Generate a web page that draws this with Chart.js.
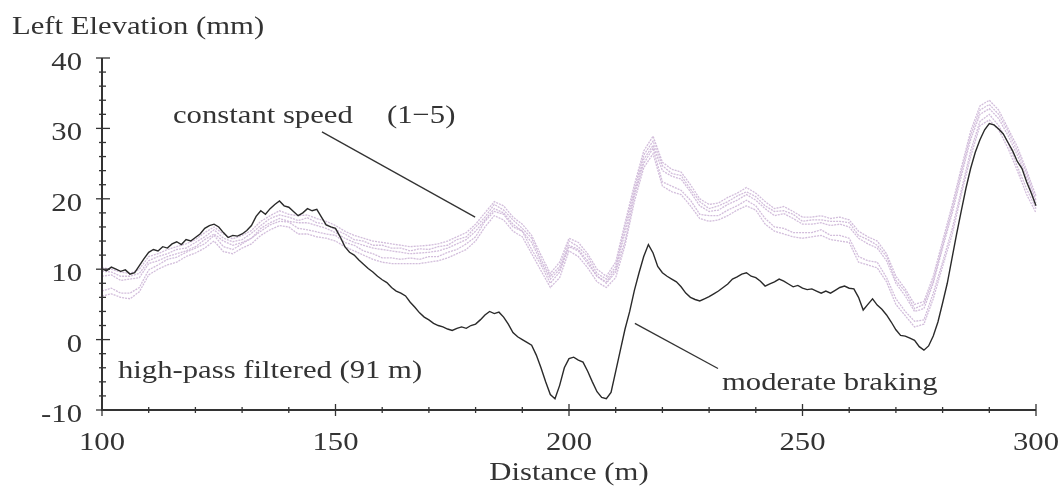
<!DOCTYPE html>
<html>
<head>
<meta charset="utf-8">
<script src="https://cdn.jsdelivr.net/npm/chart.js@4.4.0/dist/chart.umd.min.js"></script>
<style>
  html, body { margin: 0; padding: 0; background: #fff; }
  #wrap { width: 1064px; height: 489px; position: relative; }
</style>
</head>
<body>
<div id="wrap"><canvas id="chart" width="1064" height="489"></canvas></div>
<script>
// ---- data ----
// moderate braking: one value per metre, from 100 m
const brakingStart = 100;
const brakingStep = 1;
const brakingValues = [
  10.0, 9.8, 10.3, 10.0, 9.7, 9.9, 9.3, 9.5, 10.5, 11.5,
  12.4, 12.8, 12.6, 13.2, 13.0, 13.6, 13.9, 13.5, 14.2, 14.0,
  14.5, 15.0, 15.8, 16.2, 16.4, 16.0, 15.2, 14.5, 14.8, 14.7,
  15.0, 15.5, 16.2, 17.5, 18.3, 17.8, 18.6, 19.2, 19.7, 19.0,
  18.8, 18.2, 17.6, 18.0, 18.6, 18.3, 18.5, 17.4, 16.3, 16.0,
  15.8, 14.6, 13.2, 12.4, 12.0, 11.3, 10.7, 10.1, 9.6, 9.0,
  8.5, 8.1, 7.4, 6.9, 6.6, 6.2, 5.3, 4.6, 3.8, 3.2,
  2.8, 2.3, 2.0, 1.8, 1.5, 1.3, 1.6, 1.8, 1.6, 2.0,
  2.2, 2.8, 3.5, 4.0, 3.7, 3.9, 3.2, 2.2, 1.0, 0.4,
  0.0, -0.4, -0.8, -2.2, -4.0, -6.0, -7.8, -8.4, -6.5, -4.0,
  -2.7, -2.5, -2.9, -3.2, -4.5, -6.0, -7.4, -8.2, -8.4, -7.5,
  -4.5, -1.5, 1.5, 4.0, 7.0, 9.5, 11.8, 13.5, 12.3, 10.4,
  9.5, 9.0, 8.6, 8.2, 7.5, 6.6, 6.0, 5.7, 5.5, 5.8,
  6.1, 6.5, 6.9, 7.4, 7.9, 8.6, 8.9, 9.3, 9.5, 9.0,
  8.8, 8.3, 7.6, 7.9, 8.2, 8.6, 8.3, 7.9, 7.5, 7.7,
  7.3, 7.1, 7.2, 6.9, 6.6, 6.9, 6.6, 7.0, 7.4, 7.6,
  7.3, 7.2, 6.0, 4.2, 5.0, 5.8, 4.9, 4.3, 3.5, 2.5,
  1.4, 0.6, 0.5, 0.2, -0.1, -1.0, -1.5, -0.9, 0.5, 2.5,
  5.2, 8.0, 11.5, 15.0, 18.3, 21.5, 24.3, 26.6, 28.4, 29.8,
  30.7, 30.5, 29.9, 29.2, 28.0, 26.8, 25.3, 24.3, 22.4, 20.8,
  19.0, 17.5
];

// constant speed runs 1-5: one value every 2 m, from 100 m
const speedStart = 100;
const speedStep = 2;
const speedRun1 = [
  10.2, 10.0, 9.6, 9.4, 10.0, 11.8, 12.2, 12.8, 13.2, 13.6,
  14.2, 15.2, 16.0, 15.0, 14.3, 14.8, 15.5, 16.8, 17.6, 18.3,
  17.8, 17.6, 17.7, 17.2, 16.8, 16.2, 15.4, 14.8, 14.4, 14.0,
  13.8, 13.6, 13.4, 13.2, 13.3, 13.4, 13.6, 14.0, 14.6, 15.2,
  16.4, 18.0, 19.6, 19.0, 17.4, 16.4, 14.8, 12.0, 9.4, 11.0,
  14.4, 13.8, 12.2, 10.0, 9.0, 11.0, 16.6, 22.0, 26.8, 28.9,
  25.2, 24.2, 23.8, 22.0, 20.0, 19.2, 19.4, 20.2, 20.8, 21.6,
  20.8, 19.6, 18.6, 18.9, 18.2, 17.4, 17.4, 17.6, 17.2, 17.4,
  17.0, 15.4, 14.6, 14.0, 12.2, 9.0, 7.2, 5.0, 5.4, 9.0,
  14.0, 19.0, 24.4, 29.6, 33.2, 34.0, 32.6, 30.0, 27.4, 24.0, 20.4
];
const speedRun2 = [
  9.7, 9.6, 9.0, 9.0, 9.4, 11.2, 11.8, 12.2, 12.8, 13.0,
  13.8, 14.6, 15.6, 14.4, 13.9, 14.2, 15.1, 16.2, 17.2, 17.7,
  17.4, 16.9, 17.3, 16.6, 16.4, 15.6, 15.0, 14.2, 14.0, 13.4,
  13.4, 13.0, 13.0, 12.6, 12.9, 12.8, 13.2, 13.4, 14.2, 14.6,
  16.0, 17.4, 19.2, 18.4, 17.0, 15.8, 14.4, 11.4, 9.0, 10.4,
  14.0, 13.2, 11.8, 9.4, 8.6, 10.4, 16.0, 21.4, 26.2, 28.2,
  24.7, 23.6, 23.3, 21.4, 19.6, 18.6, 19.0, 19.6, 20.4, 21.0,
  20.3, 19.0, 18.2, 18.3, 17.8, 16.8, 17.0, 17.0, 16.8, 16.8,
  16.6, 14.8, 14.2, 13.4, 11.8, 8.4, 6.8, 4.4, 5.0, 8.4,
  13.4, 18.4, 23.8, 29.0, 32.6, 33.4, 32.0, 29.6, 26.8, 23.6, 19.8
];
const speedRun3 = [
  9.0, 9.2, 8.4, 8.6, 8.8, 10.8, 11.2, 11.8, 12.2, 12.6,
  13.2, 14.2, 15.0, 14.0, 13.4, 13.8, 14.4, 15.8, 16.6, 17.2,
  16.8, 16.6, 16.6, 16.2, 15.8, 15.2, 14.4, 13.8, 13.4, 13.0,
  12.8, 12.6, 12.4, 12.2, 12.3, 12.4, 12.6, 13.0, 13.6, 14.2,
  15.4, 17.0, 18.6, 18.0, 16.4, 15.4, 13.8, 11.0, 8.6, 10.0,
  13.4, 12.8, 11.2, 9.0, 8.2, 10.0, 15.2, 20.8, 25.6, 27.6,
  24.0, 23.2, 22.8, 21.0, 19.0, 18.2, 18.4, 19.2, 19.8, 20.6,
  19.8, 18.6, 17.6, 17.9, 17.2, 16.4, 16.4, 16.6, 16.2, 16.4,
  16.0, 14.4, 13.6, 13.0, 11.2, 8.0, 6.2, 4.0, 4.4, 8.0,
  13.0, 17.8, 23.2, 28.4, 32.0, 32.8, 31.4, 29.0, 26.2, 23.0, 19.4
];
const speedRun4 = [
  6.9, 7.3, 6.6, 6.6, 7.4, 9.9, 10.6, 11.4, 11.7, 12.4,
  13.0, 13.6, 14.8, 13.2, 12.8, 13.6, 14.4, 15.4, 16.3, 16.8,
  16.7, 15.8, 15.6, 15.3, 15.0, 14.8, 13.8, 13.4, 12.6, 12.2,
  11.6, 11.6, 11.4, 11.6, 11.4, 11.8, 11.8, 12.4, 12.8, 13.6,
  14.6, 16.8, 18.2, 17.8, 16.0, 15.4, 12.8, 10.6, 8.0, 9.6,
  13.2, 12.6, 10.8, 9.0, 8.0, 9.6, 14.0, 20.4, 25.0, 27.2,
  22.4, 21.8, 21.2, 19.8, 17.8, 17.6, 17.6, 18.4, 19.0, 19.8,
  19.0, 17.2, 16.0, 15.8, 15.2, 15.2, 15.2, 15.6, 14.8, 14.8,
  14.4, 11.8, 11.2, 11.0, 8.8, 5.8, 4.0, 2.6, 2.8, 6.6,
  11.0, 15.6, 21.2, 26.8, 31.0, 32.0, 30.4, 28.0, 24.6, 21.4, 18.6
];
const speedRun5 = [
  6.2, 6.5, 6.0, 5.8, 6.8, 9.2, 10.0, 10.6, 11.0, 11.8,
  12.3, 13.0, 14.0, 12.5, 12.2, 13.0, 13.6, 14.8, 15.6, 16.2,
  16.0, 15.0, 15.0, 14.6, 14.4, 14.0, 13.2, 12.6, 12.0, 11.4,
  11.0, 10.8, 10.8, 10.8, 10.8, 11.0, 11.2, 11.6, 12.2, 12.8,
  14.0, 16.0, 17.6, 17.0, 15.4, 14.6, 12.2, 9.8, 7.4, 8.8,
  12.6, 11.8, 10.2, 8.2, 7.4, 8.8, 13.4, 19.6, 24.4, 26.4,
  21.8, 21.0, 20.6, 19.0, 17.2, 16.8, 17.0, 17.6, 18.4, 19.0,
  18.4, 16.4, 15.4, 15.0, 14.6, 14.4, 14.6, 14.8, 14.2, 14.0,
  13.8, 11.0, 10.6, 10.2, 8.2, 5.0, 3.4, 1.8, 2.2, 5.8,
  10.4, 14.8, 20.6, 26.0, 30.4, 31.2, 29.8, 27.2, 24.0, 20.6, 18.0
];

// axes
const xMin = 100, xMax = 300, xMinorStep = 10, xMajorStep = 50;
const yMin = -10, yMax = 40, yMinorStep = 2, yMajorStep = 10;

// ---- look ----
const FONT = '"Liberation Serif", "Times New Roman", serif';
const TEXT_SIZE = 26;
const TEXT_STRETCH = 1.18;
const INK = '#333';
const LAVENDER = 'rgba(205, 182, 215, 0.9)';

function toPoints(values, start, step) {
  return values.map((v, i) => ({ x: start + i * step, y: v }));
}

function speedDataset(values) {
  return {
    data: toPoints(values, speedStart, speedStep),
    borderColor: LAVENDER,
    borderWidth: 1.3,
    borderDash: [2, 1],
    pointRadius: 0,
    tension: 0,
    clip: false
  };
}

function drawText(ctx, text, x, y, align) {
  ctx.save();
  ctx.translate(x, y);
  ctx.scale(TEXT_STRETCH, 1);
  ctx.textAlign = align || 'left';
  ctx.textBaseline = 'alphabetic';
  ctx.fillText(text, 0, 0);
  ctx.restore();
}

// axes, ticks crossing the axis, tick labels and notes
const decorPlugin = {
  id: 'decor',
  afterDraw(chart) {
    const ctx = chart.ctx;
    const area = chart.chartArea;
    const xs = chart.scales.x;
    const ys = chart.scales.y;

    ctx.save();
    ctx.strokeStyle = INK;
    ctx.fillStyle = INK;

    // axis lines
    ctx.lineWidth = 2;
    ctx.beginPath();
    ctx.moveTo(area.left, area.top);
    ctx.lineTo(area.left, area.bottom);
    ctx.lineTo(area.right, area.bottom);
    ctx.stroke();

    // ticks
    ctx.lineWidth = 1.3;
    ctx.font = TEXT_SIZE + 'px ' + FONT;
    ys.ticks.forEach(t => {
      const py = ys.getPixelForValue(t.value);
      const major = t.value % yMajorStep === 0;
      const a = major ? 6 : 3, b = major ? 8 : 4;
      ctx.beginPath();
      ctx.moveTo(area.left - a, py);
      ctx.lineTo(area.left + b, py);
      ctx.stroke();
      if (major) drawText(ctx, String(t.value), area.left - 20, py + 12, 'right');
    });
    xs.ticks.forEach(t => {
      const px = xs.getPixelForValue(t.value);
      const major = t.value % xMajorStep === 0;
      const a = major ? 6 : 3;
      ctx.beginPath();
      ctx.moveTo(px, area.bottom - a);
      ctx.lineTo(px, area.bottom + a);
      ctx.stroke();
      if (major) drawText(ctx, String(t.value), px, area.bottom + 40, 'center');
    });

    // axis titles
    drawText(ctx, 'Left Elevation (mm)', 12, 34, 'left');
    drawText(ctx, 'Distance (m)', (area.left + area.right) / 2, 480, 'center');

    // notes
    drawText(ctx, 'constant speed', 173, 123, 'left');
    drawText(ctx, '(1\u22125)', 387, 123, 'left');
    drawText(ctx, 'high-pass filtered (91 m)', 118, 378, 'left');
    drawText(ctx, 'moderate braking', 722, 390, 'left');

    // leader lines, placed in data units
    ctx.lineWidth = 1.3;
    const leaders = [
      [147.1, 29.5, 179.9, 17.4],
      [214.1, 2.3, 231.9, -4.1]
    ];
    leaders.forEach(([x1, y1, x2, y2]) => {
      ctx.beginPath();
      ctx.moveTo(xs.getPixelForValue(x1), ys.getPixelForValue(y1));
      ctx.lineTo(xs.getPixelForValue(x2), ys.getPixelForValue(y2));
      ctx.stroke();
    });
    ctx.restore();
  }
};

new Chart(document.getElementById('chart'), {
  type: 'line',
  data: {
    datasets: [
      {
        data: toPoints(brakingValues, brakingStart, brakingStep),
        borderColor: '#2a2a2a',
        borderWidth: 1.4,
        pointRadius: 0,
        tension: 0,
        clip: false
      },
      speedDataset(speedRun1),
      speedDataset(speedRun2),
      speedDataset(speedRun3),
      speedDataset(speedRun4),
      speedDataset(speedRun5)
    ]
  },
  options: {
    responsive: false,
    animation: false,
    devicePixelRatio: 1,
    layout: { padding: { top: 58, right: 28, left: 0, bottom: 0 } },
    plugins: { legend: { display: false }, tooltip: { enabled: false } },
    scales: {
      x: {
        type: 'linear',
        min: xMin,
        max: xMax,
        grid: { display: false, drawTicks: false },
        border: { display: false },
        ticks: { stepSize: xMinorStep, autoSkip: false, callback: () => '' },
        afterFit: s => { s.height = 79; }
      },
      y: {
        type: 'linear',
        min: yMin,
        max: yMax,
        grid: { display: false, drawTicks: false },
        border: { display: false },
        ticks: { stepSize: yMinorStep, autoSkip: false, callback: () => '' },
        afterFit: s => { s.width = 102; }
      }
    }
  },
  plugins: [decorPlugin]
});
</script>
</body>
</html>
